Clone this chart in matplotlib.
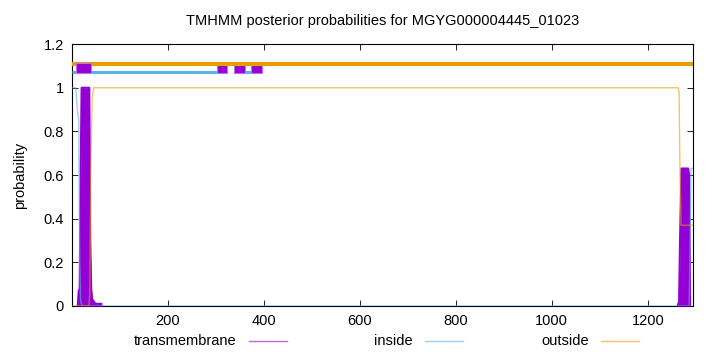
import matplotlib
matplotlib.use("Agg")
from matplotlib import pyplot as plt
from matplotlib.lines import Line2D

plt.rcParams['font.family'] = ['Liberation Sans', 'DejaVu Sans']

seq_len = 1294

# posterior probabilities (breakpoints)
tm_pos = [1, 13, 15, 17, 19, 21, 37, 39, 41, 43, 50, 62, 65,
          1262, 1265, 1267, 1270, 1284, 1286, 1288, 1294]
tm_val = [0, 0, 0.07, 0.08, 0.6, 1.0, 1.0, 0.3, 0.08, 0.03, 0.01, 0.01, 0,
          0, 0.02, 0.3, 0.63, 0.63, 0.6, 0, 0]

inside_pos = [1, 9, 12, 15, 17, 19, 22, 1286, 1288, 1290, 1294]
inside_val = [1, 1, 0.9, 0.85, 0.2, 0.02, 0, 0, 0.3, 0.63, 0.63]

outside_pos = [1, 36, 38, 40, 43, 46, 1263, 1265, 1267, 1269, 1294]
outside_val = [0, 0, 0.05, 0.6, 0.95, 1, 1, 0.98, 0.6, 0.37, 0.37]

# predicted topology bar at the top
tm_boxes = [(10, 40), (302, 323), (338, 361), (373, 396)]
inside_segs = [(1, 302), (361, 373)]
outside_segs = [(1, seq_len)]

purple = '#9400D3'
blue = '#56B4E9'
orange = '#E69F00'

fig = plt.figure(figsize=(7.2, 3.52), dpi=100)
ax = fig.add_axes([0.1, 0.1307, 0.8625, 0.744])

# transmembrane probability, drawn peak by peak so the zero baseline stays clear
ax.fill_between(tm_pos, tm_val, color=purple, lw=0, zorder=3)
for peak in (slice(1, 12), slice(13, 20)):
    ax.plot(tm_pos[peak], tm_val[peak], color=purple, lw=1.5, zorder=3)
ax.plot(inside_pos, inside_val, color=blue, lw=1, alpha=0.6, zorder=4)
ax.plot(outside_pos, outside_val, color=orange, lw=1, alpha=0.6, zorder=4)

for a, b in outside_segs:
    ax.plot([a, b], [1.11, 1.11], color=orange, lw=3, solid_capstyle='butt', zorder=5)
for a, b in inside_segs:
    ax.plot([a, b], [1.07, 1.07], color=blue, lw=2.2, solid_capstyle='butt', zorder=5)
for i, (a, b) in enumerate(tm_boxes):
    top = 1.113 if i == 0 else 1.103
    ax.fill_between([a, b], 1.067, top, color=purple, lw=0.8,
                    edgecolor='#c070e8', zorder=6 if i == 0 else 4.5)

ax.set_xlim(1, seq_len)
ax.set_ylim(0, 1.2)
ax.set_xticks([200, 400, 600, 800, 1000, 1200])
ax.set_yticks([0, 0.2, 0.4, 0.6, 0.8, 1, 1.2])
ax.set_yticklabels(['0', '0.2', '0.4', '0.6', '0.8', '1', '1.2'])
ax.tick_params(direction='in', top=True, right=True, labelsize=10.5, length=4, width=0.6, pad=6)
for s in ax.spines.values():
    s.set_linewidth(0.8)
ax.set_ylabel('probability', fontsize=10.5, labelpad=12)
ax.set_title('TMHMM posterior probabilities for MGYG000004445_01023', fontsize=10.5, pad=14)

# legend below the axes, gnuplot style
legend_items = [('transmembrane', purple, 0.331), ('inside', blue, 0.575), ('outside', orange, 0.82)]
for label, col, xr in legend_items:
    fig.text(xr - 0.002, 0.031, label, ha='right', va='center', fontsize=10.5)
    fig.add_artist(Line2D([xr + 0.015, xr + 0.068], [0.031, 0.031],
                          color=col, lw=1, alpha=0.6, transform=fig.transFigure))

fig.savefig('out.png', dpi=100)
